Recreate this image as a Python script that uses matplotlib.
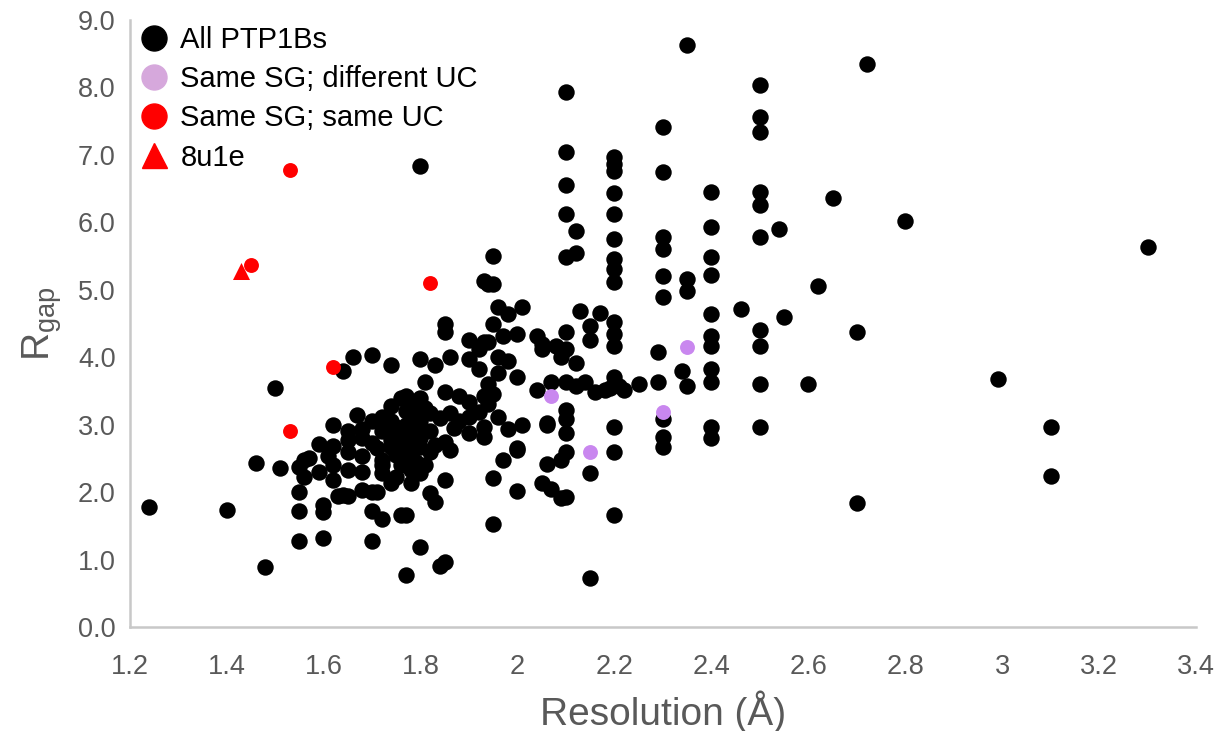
import matplotlib
matplotlib.use("Agg")
import matplotlib.pyplot as plt
from matplotlib.lines import Line2D

plt.rcParams['font.family'] = ['Liberation Sans', 'DejaVu Sans']

# All PTP1B structures: resolution (A) vs Rgap
black_x = [
    1.24, 1.40, 1.48, 1.46, 1.51, 1.50,
    1.64, 1.66, 1.70, 1.74, 1.80, 1.83, 1.81, 1.80,
    1.62, 1.67, 1.59, 1.62, 1.56, 1.57, 1.62,
    1.55, 1.55, 1.60, 1.60, 1.55, 1.60, 1.70, 1.70, 1.72, 1.76, 1.77, 1.80, 1.77,
    1.63, 1.65, 1.70, 1.71, 1.83, 1.84, 1.85,
    1.76, 1.80, 1.74, 1.85, 1.88, 1.90, 1.92, 1.90, 1.86, 1.82, 1.78, 1.70, 1.72,
    1.65, 1.68, 1.72, 1.75, 1.78, 1.82, 1.85, 1.90, 1.93, 1.93,
    1.65, 1.68, 1.70, 1.74, 1.77, 1.80, 1.75, 1.78, 1.81, 1.72, 1.68, 1.65, 1.61,
    1.55, 1.56, 1.59, 1.62, 1.65, 1.68, 1.72, 1.75, 1.78, 1.80, 1.74, 1.78, 1.82,
    1.85, 1.68, 1.64,
    1.76, 1.78, 1.74, 1.77, 1.80, 1.73, 1.79, 1.76, 1.82, 1.75, 1.71, 1.80, 1.72,
    1.79, 1.83, 1.87, 1.88, 1.77, 1.79, 1.76, 1.81, 1.74, 1.78, 1.84, 1.86,
    1.95, 1.94, 1.95, 1.96, 1.98, 2.01, 1.95, 1.85, 1.85, 1.90, 1.94, 1.97, 2.00,
    2.04, 1.92, 1.86, 1.90, 1.92, 1.96, 1.98, 1.96, 2.00, 2.05, 1.94, 2.04, 1.77,
    1.94, 1.95, 1.94,
    1.96, 1.98, 2.01, 2.06, 2.00, 1.97, 1.95, 2.00, 2.06, 2.05, 2.07, 2.09, 2.09,
    1.95,
    2.10, 2.20, 2.20, 2.12, 2.10, 2.12, 2.20, 2.20, 2.20, 2.30, 2.30, 2.30, 2.30,
    2.35, 2.35, 2.40, 2.40, 2.40, 2.50, 2.54, 2.46, 2.55, 2.50, 2.50, 2.50, 2.50,
    2.40, 2.40, 2.40, 2.40, 2.40, 2.40, 2.40, 2.34, 2.35, 2.29, 2.29, 2.30, 2.30,
    2.30, 2.25, 2.20, 2.20, 2.20, 2.20, 2.21, 2.19, 2.20, 2.20, 2.20, 2.15, 2.15,
    2.10, 2.10, 2.10, 2.10, 2.10, 2.06, 2.07, 2.10, 2.12, 2.14, 2.16, 2.18, 2.22,
    2.10, 2.10, 2.13, 2.17, 2.15, 2.15, 2.05, 2.08, 2.09, 2.12, 1.93, 1.93, 2.00,
    1.93,
    2.35, 2.72, 2.10, 2.50, 2.50, 2.50, 2.30, 2.10, 2.20, 2.20, 2.20, 2.30, 2.10,
    2.20, 2.40, 2.50, 2.50, 2.65, 2.80,
    3.30, 2.62, 2.70, 2.60, 2.99, 3.10, 3.10, 2.70,
]
black_y = [
    1.78, 1.74, 0.89, 2.44, 2.36, 3.55,
    3.79, 4.00, 4.04, 3.89, 3.98, 3.89, 3.63, 6.84,
    2.99, 3.14, 2.72, 2.69, 2.48, 2.51, 2.41,
    2.01, 1.72, 1.81, 1.71, 1.28, 1.32, 1.28, 1.72, 1.60, 1.66, 1.66, 1.19, 0.77,
    1.95, 1.95, 2.01, 2.01, 1.86, 0.91, 0.97,
    3.40, 3.40, 3.27, 3.48, 3.42, 3.33, 3.19, 3.12, 3.18, 3.18, 3.12, 3.05, 3.12,
    2.90, 2.93, 2.90, 2.97, 2.93, 2.90, 2.75, 2.88, 2.82, 2.97,
    2.78, 2.81, 2.73, 2.67, 2.73, 2.67, 2.59, 2.53, 2.41, 2.48, 2.53, 2.59, 2.53,
    2.38, 2.23, 2.30, 2.18, 2.33, 2.30, 2.29, 2.23, 2.33, 2.29, 2.14, 2.14, 1.99,
    2.18, 2.04, 1.96,
    2.85, 2.60, 2.78, 3.00, 2.80, 2.95, 2.45, 2.40, 2.60, 2.55, 2.65, 3.05, 2.40,
    2.88, 2.70, 2.95, 3.05, 3.20, 3.28, 2.50, 3.25, 3.05, 2.75, 3.10, 2.62,
    5.50, 5.08, 5.08, 4.74, 4.64, 4.74, 4.49, 4.49, 4.38, 4.26, 4.23, 4.31, 4.34,
    4.31, 4.12, 4.00, 3.97, 3.82, 4.01, 3.94, 3.77, 3.71, 4.19, 3.60, 3.52, 3.42,
    3.40, 3.45, 3.30,
    3.12, 2.93, 2.99, 3.02, 2.63, 2.48, 2.21, 2.02, 2.42, 2.14, 2.05, 1.92, 2.48,
    1.53,
    6.12, 6.12, 5.75, 5.87, 5.48, 5.54, 5.45, 5.30, 5.11, 5.78, 5.60, 5.20, 4.89,
    5.16, 4.98, 5.93, 5.48, 5.22, 5.78, 5.90, 4.71, 4.59, 4.41, 4.16, 3.60, 2.97,
    4.64, 4.31, 4.16, 3.82, 3.63, 2.97, 2.81, 3.79, 3.57, 4.07, 3.64, 3.08, 2.82,
    2.67, 3.60, 4.52, 4.34, 4.16, 3.70, 3.57, 3.55, 2.97, 2.60, 1.66, 0.73, 2.29,
    2.60, 3.22, 3.08, 2.88, 1.93, 3.00, 3.64, 3.64, 3.57, 3.63, 3.49, 3.52, 3.52,
    4.37, 4.12, 4.68, 4.66, 4.46, 4.26, 4.12, 4.16, 4.01, 3.92, 4.22, 3.42, 2.66,
    5.13,
    8.62, 8.34, 7.93, 8.04, 7.56, 7.33, 7.41, 7.04, 6.97, 6.86, 6.76, 6.74, 6.55,
    6.43, 6.45, 6.45, 6.26, 6.36, 6.02,
    5.63, 5.05, 4.38, 3.60, 3.67, 2.96, 2.24, 1.84,
]

# same space group, different unit cell
lilac_x = [2.07, 2.15, 2.30, 2.35]
lilac_y = [3.42, 2.59, 3.19, 4.15]

# same space group, same unit cell
red_x = [1.53, 1.45, 1.82, 1.62, 1.53]
red_y = [6.78, 5.36, 5.10, 3.86, 2.91]

# 8u1e
tri_x = [1.43]
tri_y = [5.27]

x_ticks = [1.2, 1.4, 1.6, 1.8, 2, 2.2, 2.4, 2.6, 2.8, 3, 3.2, 3.4]
x_tick_labels = ["1.2", "1.4", "1.6", "1.8", "2", "2.2", "2.4", "2.6", "2.8", "3", "3.2", "3.4"]
y_ticks = [0, 1, 2, 3, 4, 5, 6, 7, 8, 9]

grey = "#595959"
lilac = "#c987ef"

fig = plt.figure(figsize=(12.22, 7.31), dpi=100)
ax = fig.add_axes([0.106, 0.142, 0.873, 0.831])

ax.scatter(black_x, black_y, s=140, color="black", linewidths=0, zorder=2)
ax.scatter(lilac_x, lilac_y, s=115, color=lilac, linewidths=0, zorder=3)
ax.scatter(red_x, red_y, s=115, color="#ff0000", linewidths=0, zorder=3)
ax.scatter(tri_x, tri_y, s=150, marker="^", color="#ff0000", linewidths=0, zorder=4)

ax.set_xlim(1.2, 3.4)
ax.set_ylim(0, 9.0)
ax.set_xticks(x_ticks)
ax.set_xticklabels(x_tick_labels)
ax.set_yticks(y_ticks)
ax.set_yticklabels([f"{v:.1f}" for v in y_ticks])
ax.tick_params(length=0, labelsize=19.5, labelcolor=grey)
ax.tick_params(axis="x", pad=19)
ax.tick_params(axis="y", pad=10)

for side in ["top", "right"]:
    ax.spines[side].set_visible(False)
for side in ["left", "bottom"]:
    ax.spines[side].set_color("#c8c8c8")
    ax.spines[side].set_linewidth(1.8)

ax.set_xlabel("Resolution (Å)", fontsize=28, color=grey, labelpad=8)
ax.set_ylabel(r"R$_{\mathregular{gap}}$", fontsize=28, color=grey, labelpad=10)

handles = [
    Line2D([], [], marker="o", linestyle="none", color="black", markersize=18),
    Line2D([], [], marker="o", linestyle="none", color="#d6a8dc", markersize=18),
    Line2D([], [], marker="o", linestyle="none", color="#ff0000", markersize=18),
    Line2D([], [], marker="^", linestyle="none", color="#ff0000", markersize=18),
]
labels = ["All PTP1Bs", "Same SG; different UC", "Same SG; same UC", "8u1e"]
ax.legend(handles, labels, loc="upper left", bbox_to_anchor=(-0.007, 1.018),
          frameon=False, fontsize=21, handletextpad=0.4, labelspacing=0.38,
          borderaxespad=0.2, handlelength=1.0)

fig.savefig("out.png", dpi=100)
